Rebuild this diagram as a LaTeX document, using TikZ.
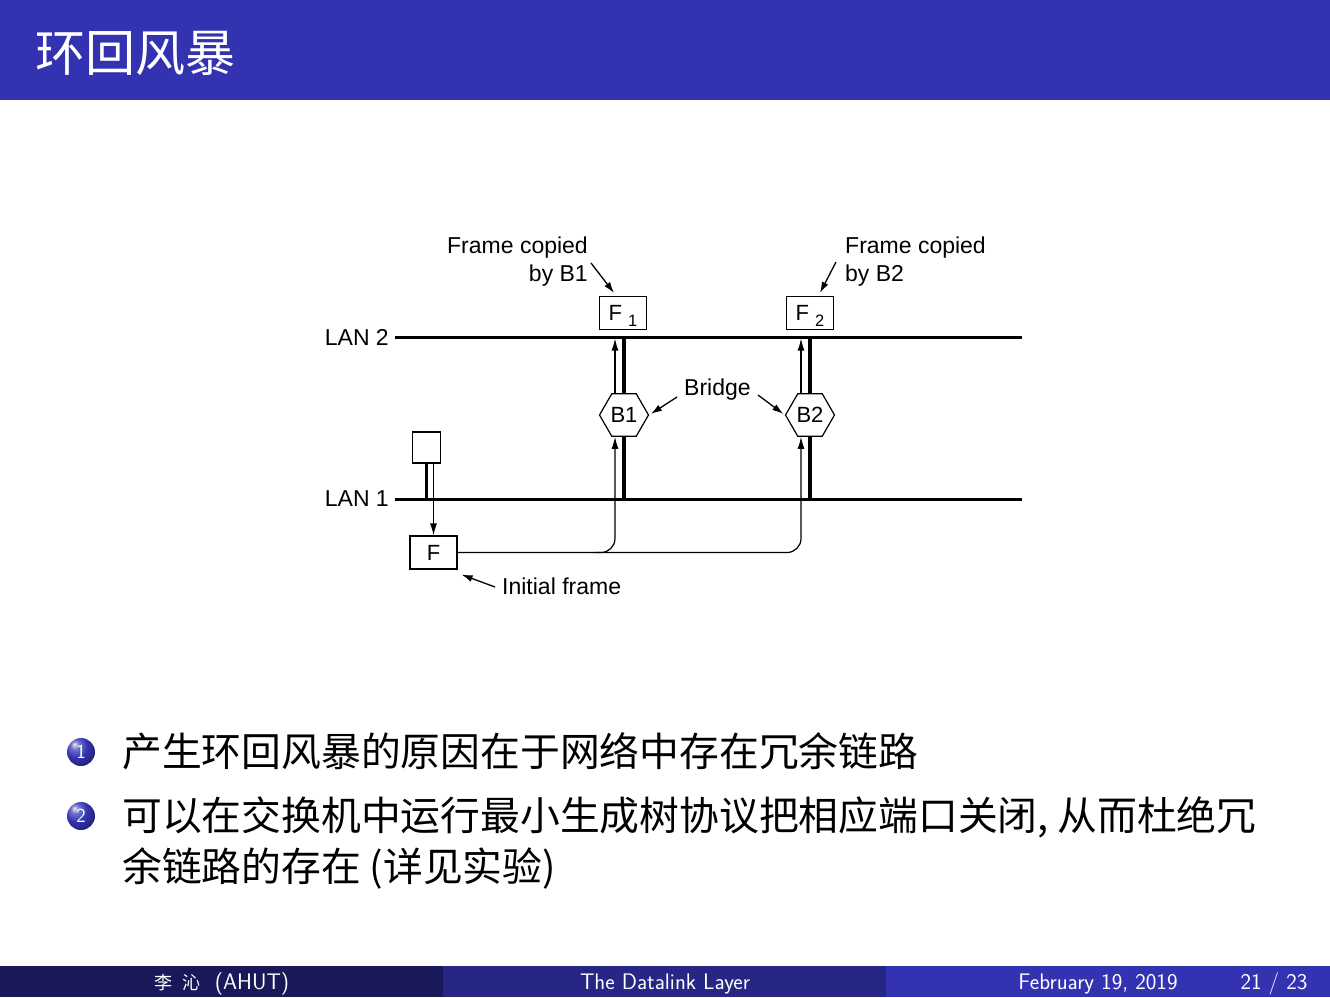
\documentclass[tikz,border=0pt]{standalone}
\usepackage{fontspec}
\usetikzlibrary{arrows.meta,shapes.geometric}
\newfontfamily\helv{Liberation Sans}
\newfontfamily\cjk{Noto Sans CJK SC}
\definecolor{structblue}{RGB}{51,51,178}
\definecolor{footdark}{RGB}{25,25,89}
\definecolor{footmid}{RGB}{38,38,133}
% sphere used for the enumeration numbers
\pgfdeclareradialshading{itemsphere}{\pgfpoint{-12bp}{14bp}}{%
  color(0bp)=(structblue!10!white);
  color(8bp)=(structblue!70!white);
  color(20bp)=(structblue);
  color(36bp)=(structblue!60!black);
  color(70bp)=(structblue!45!black)}

\begin{document}
\begin{tikzpicture}[x=1pt,y=-1pt,
  lbl/.style={font=\helv\fontsize{23}{27}\selectfont, inner sep=0pt},
  lan/.style={line width=3pt},
  tap/.style={line width=3.2pt},
  flow/.style={line width=1.2pt, -{Latex[length=12pt,width=7pt]}},
  pointer/.style={line width=1.3pt, -{Latex[length=11pt,width=7pt]}},
  framebox/.style={draw, line width=1.2pt, fill=white, minimum width=47pt,
    minimum height=33pt, inner sep=0pt, font=\helv\fontsize{22}{24}\selectfont,
    text height=15pt, text depth=0pt},
  hostbox/.style={draw, line width=1.2pt, fill=white, minimum width=28pt,
    minimum height=31pt, inner sep=0pt},
  bridgehex/.style={draw, line width=1.2pt, fill=white, regular polygon,
    regular polygon sides=6, minimum size=49pt, inner sep=0pt,
    font=\helv\fontsize{22}{24}\selectfont},
  itemtext/.style={font=\cjk\fontsize{39.8}{44}\selectfont, inner sep=0pt, anchor=base west},
  itemball/.style={circle, shading=itemsphere, minimum size=28pt, inner sep=0pt,
    text=white, font=\sffamily\fontsize{20}{20}\selectfont},
  foot/.style={text=white, font=\sffamily\fontsize{22.5}{24}\selectfont, inner sep=0pt, anchor=base},
]
\useasboundingbox (0,0) rectangle (1330,997);

% title bar
\fill[structblue] (0,0) rectangle (1330,100);
\node[anchor=base west, inner sep=0pt, text=white, font=\cjk\fontsize{50}{50}\selectfont]
  (title) at (35,71) {环回风暴};

% the two LANs
\coordinate (lan2w) at (395,337);
\coordinate (lan2e) at (1022,337);
\coordinate (lan1w) at (395,499);
\coordinate (lan1e) at (1022,499);
\draw[lan] (lan2w) -- (lan2e);
\draw[lan] (lan1w) -- (lan1e);
\node[lbl, anchor=east] (lan2lbl) at (389,337) {LAN 2};
\node[lbl, anchor=east] (lan1lbl) at (389,499) {LAN 1};

% bridges with their taps onto both LANs
\coordinate (b1c) at (624,415);
\coordinate (b2c) at (810,415);
\draw[tap] (b1c |- lan2w) -- (b1c |- lan1w);
\draw[tap] (b2c |- lan2w) -- (b2c |- lan1w);
\node[bridgehex] (b1) at (b1c) {B1};
\node[bridgehex] (b2) at (b2c) {B2};

% sending host and the initial frame
\node[hostbox] (host) at (426.5,447.5) {};
\draw[tap] (host.south) -- (host.south |- lan1w);
\node[framebox] (f0) at (433.5,552.5) {F};
\draw[flow] (host.south -| f0.north) -- (f0.north);

% copied frames on LAN 2
\node[framebox] (f1) at (623,313) {F\hspace{6pt}\raisebox{-6pt}{\fontsize{16.5}{18}\selectfont 1}};
\node[framebox] (f2) at (810,313) {F\hspace{6pt}\raisebox{-6pt}{\fontsize{16.5}{18}\selectfont 2}};

% frame flow: LAN 1 -> bridges -> LAN 2
\draw[flow, rounded corners=14pt] (f0.east) -| ([xshift=-9pt]b2.south);
\draw[flow, rounded corners=14pt] ([xshift=-29pt]b1.south |- f0.east) -| ([xshift=-9pt]b1.south);
\draw[flow, shorten >=1.5pt] ([xshift=-9pt]b1.north) -- ([xshift=-9pt]b1.north |- lan2w);
\draw[flow, shorten >=1.5pt] ([xshift=-9pt]b2.north) -- ([xshift=-9pt]b2.north |- lan2w);

% labels with pointers
\node[lbl, anchor=base east] (fc1a) at (588,253) {Frame copied};
\node[lbl, anchor=base east] (fc1b) at (588,281) {by B1};
\coordinate (fc1tail) at (591,263);
\draw[pointer] (fc1tail) -- ([xshift=-9pt,yshift=3pt]f1.north);

\node[lbl, anchor=base west] (fc2a) at (845,253) {Frame copied};
\node[lbl, anchor=base west] (fc2b) at (845,281) {by B2};
\coordinate (fc2tail) at (836,262);
\draw[pointer] (fc2tail) -- ([xshift=10pt,yshift=3pt]f2.north);

\node[lbl, anchor=base west] (bridge) at (684,395) {Bridge};
\coordinate (brtail1) at (677,397);
\coordinate (brtail2) at (758,395);
\draw[pointer, shorten >=2pt] (brtail1) -- (b1.east);
\draw[pointer, shorten >=2pt] (brtail2) -- (b2.west);

\node[lbl, anchor=base west] (initial) at (502,594) {Initial frame};
\coordinate (inittail) at (495,587);
\draw[pointer] (inittail) -- ([xshift=4pt,yshift=-5pt]f0.south east);

% bullet list
\node[itemball] (ball1) at (81,752) {1};
\node[itemball] (ball2) at (81,816) {2};
\node[itemtext] (item1) at (122,766) {产生环回风暴的原因在于网络中存在冗余链路};
\node[itemtext] (item2a) at (122,830) {可以在交换机中运行最小生成树协议把相应端口关闭, 从而杜绝冗};
\node[itemtext] (item2b) at (122,881) {余链路的存在 (详见实验)};

% footline
\fill[footdark] (0,966) rectangle (443,997);
\fill[footmid] (443,966) rectangle (886,997);
\fill[structblue] (886,966) rectangle (1330,997);
\node[foot] (author) at (222,989) {{\cjk\fontsize{18}{20}\selectfont 李\hspace{10pt}沁}\hspace{14pt}(AHUT)};
\node[foot] (talk) at (665,989) {The Datalink Layer};
\node[foot] (date) at (1098,989) {February 19, 2019};
\node[foot] (page) at (1274,989) {21 / 23};
\end{tikzpicture}
\end{document}
